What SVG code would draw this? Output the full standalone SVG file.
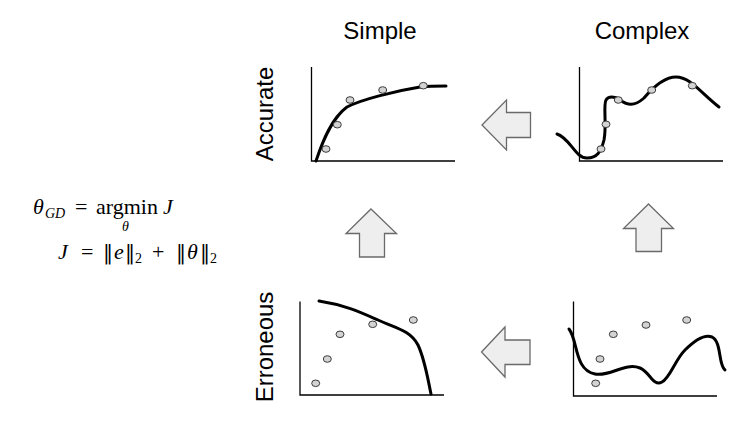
<svg xmlns="http://www.w3.org/2000/svg" width="749" height="434" viewBox="0 0 749 434">
<style>
.lbl{font-family:"Liberation Sans",Arial,sans-serif;font-size:24px;fill:#000}
.m{font-family:"Liberation Serif","DejaVu Serif",serif;font-size:22px;fill:#000}
.i{font-style:italic}
.s{font-size:14px}
.bar{font-family:"DejaVu Serif",serif;font-size:20px}
.ax{fill:none;stroke:#000;stroke-width:1.3}
.cv{fill:none;stroke:#000;stroke-width:3;stroke-linecap:round;stroke-linejoin:round}
.pt{fill:#d3d3d3;stroke:#3c3c3c;stroke-width:1}
.arr{fill:#eeeeee;stroke:#6a6a6a;stroke-width:1.3;stroke-linejoin:miter}
</style>
<rect width="749" height="434" fill="#fff"/>

<g id="labels">
<text class="lbl" x="380" y="39" text-anchor="middle">Simple</text>
<text class="lbl" x="642" y="39" text-anchor="middle">Complex</text>
<text class="lbl" transform="translate(273,114) rotate(-90)" text-anchor="middle">Accurate</text>
<text class="lbl" transform="translate(273,347) rotate(-90)" text-anchor="middle">Erroneous</text>
</g>

<g id="formula">
<text class="m" y="214"><tspan class="i" x="33">θ</tspan><tspan class="i s" x="45" dy="4">GD</tspan><tspan x="75" dy="-4">=</tspan><tspan x="96">argmin</tspan><tspan class="i" x="163">J</tspan></text>
<text class="m i s" x="122" y="231">θ</text>
<text class="m" y="259"><tspan class="i" x="58">J</tspan><tspan x="81">=</tspan><tspan class="bar" x="103">‖</tspan><tspan class="i" x="114">e</tspan><tspan class="bar" x="125">‖</tspan><tspan class="s" x="135" dy="4">2</tspan><tspan x="152" dy="-4">+</tspan><tspan class="bar" x="176">‖</tspan><tspan class="i" x="187">θ</tspan><tspan class="bar" x="200">‖</tspan><tspan class="s" x="210" dy="4">2</tspan></text>
</g>

<g id="chart-simple-accurate">
<path class="ax" d="M311.5,67 V161 H455"/>
<path class="cv" d="M316,161 C323,140 332,118 347,107 C360,100 395,91 420,87 C430,86 440,86 446,86"/>
<ellipse class="pt" cx="326" cy="149" rx="4" ry="3.3"/>
<ellipse class="pt" cx="337.3" cy="124.7" rx="4" ry="3.3"/>
<ellipse class="pt" cx="350" cy="100" rx="4" ry="3.3"/>
<ellipse class="pt" cx="382.7" cy="90" rx="4" ry="3.3"/>
<ellipse class="pt" cx="423.3" cy="85.7" rx="4" ry="3.3"/>
</g>

<g id="chart-complex-accurate">
<path class="ax" d="M579.5,67 V161 H723"/>
<path class="cv" d="M557,134 C570,138 575,158 587,158 C597,158 601,152 604,140 C607,125 603,105 606,100 C608,96 615,96 620,100 C627,105 634,107 644,98 C655,85 665,77 676,77 C690,77 700,92 719,107"/>
<ellipse class="pt" cx="601" cy="149" rx="4" ry="3.3"/>
<ellipse class="pt" cx="606" cy="124.3" rx="4" ry="3.3"/>
<ellipse class="pt" cx="618.3" cy="100" rx="4" ry="3.3"/>
<ellipse class="pt" cx="651.7" cy="90" rx="4" ry="3.3"/>
<ellipse class="pt" cx="692.3" cy="85.7" rx="4" ry="3.3"/>
</g>

<g id="chart-simple-erroneous">
<path class="ax" d="M300,301.5 V395 H444"/>
<path class="cv" d="M319,301 C345,305 360,312 378,320 C395,328 410,330 418,345 C425,360 428,380 431,394"/>
<ellipse class="pt" cx="315.7" cy="383.3" rx="4" ry="3.3"/>
<ellipse class="pt" cx="327.3" cy="359" rx="4" ry="3.3"/>
<ellipse class="pt" cx="340" cy="334.3" rx="4" ry="3.3"/>
<ellipse class="pt" cx="372.7" cy="324.3" rx="4" ry="3.3"/>
<ellipse class="pt" cx="413.3" cy="320" rx="4" ry="3.3"/>
</g>

<g id="chart-complex-erroneous">
<path class="ax" d="M573.5,301.5 V396 H717"/>
<path class="cv" d="M569,329 C578,340 574,370 595,374 C610,377 625,362 640,368 C650,372 653,387 662,382 C670,378 675,360 685,350 C695,340 705,334 712,337 C722,342 718,365 725,370"/>
<ellipse class="pt" cx="595.7" cy="383.3" rx="4" ry="3.3"/>
<ellipse class="pt" cx="600" cy="359" rx="4" ry="3.3"/>
<ellipse class="pt" cx="613.3" cy="334.3" rx="4" ry="3.3"/>
<ellipse class="pt" cx="646" cy="325" rx="4" ry="3.3"/>
<ellipse class="pt" cx="686.7" cy="320" rx="4" ry="3.3"/>
</g>

<g id="connectors">
<polygon class="arr" points="482,125 506.5,100 506.5,112.5 530.5,112.5 530.5,137.5 506.5,137.5 506.5,150"/>
<polygon class="arr" points="481.5,352 505,327 505,340 530,340 530,364.5 505,364.5 505,377"/>
<polygon class="arr" points="371,209 396.5,233.5 384.5,233.5 384.5,257 359.5,257 359.5,233.5 346,233.5"/>
<polygon class="arr" points="648.5,204 673.5,228.5 661.5,228.5 661.5,251.5 636,251.5 636,228.5 623.5,228.5"/>
</g>
</svg>
